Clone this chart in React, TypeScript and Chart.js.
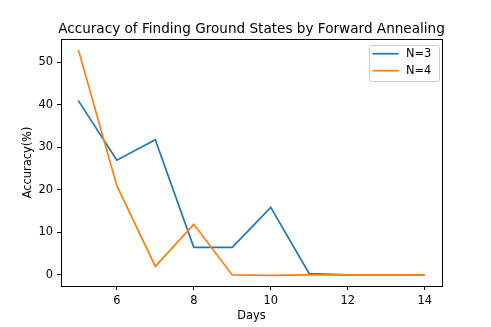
import React, { useEffect, useRef } from "react";
import { Chart, registerables } from "chart.js";

Chart.register(...registerables);

const days = [5, 6, 7, 8, 9, 10, 11, 12, 13, 14];
const n3 = [41, 27, 31.8, 6.5, 6.5, 15.9, 0.3, 0, 0, 0];
const n4 = [53, 21, 2, 11.9, 0, -0.1, 0, 0, 0, 0];
const xTicks = [6, 8, 10, 12, 14];
const yTicks = [0, 10, 20, 30, 40, 50];
const seriesLabels = ["N=3", "N=4"];
const colors = ["#1f77b4", "#ff7f0e"];
const titleText = "Accuracy of Finding Ground States by Forward Annealing";
const xLabel = "Days";
const yLabel = "Accuracy(%)";

const FONT = "'DejaVu Sans', sans-serif";
const FS = 11.4;
const TFS = 13.6;

const decorPlugin = {
  id: "decor",
  afterDraw(chart: any) {
    const { ctx, chartArea } = chart;
    const { left, right, top, bottom } = chartArea;
    ctx.save();
    // frame
    ctx.strokeStyle = "#000";
    ctx.lineWidth = 1;
    ctx.strokeRect(Math.round(left) + 0.5, Math.round(top) + 0.5, Math.round(right - left), Math.round(bottom - top));
    // title
    ctx.fillStyle = "#000";
    ctx.font = `${TFS}px ${FONT}`;
    ctx.textAlign = "center";
    ctx.textBaseline = "alphabetic";
    ctx.fillText(titleText, (left + right) / 2, 32.7);
    // x label
    ctx.font = `${FS}px ${FONT}`;
    ctx.fillText(xLabel, (left + right) / 2, 319);
    // y label
    ctx.save();
    ctx.translate(28.5, (top + bottom) / 2);
    ctx.rotate(-Math.PI / 2);
    ctx.textBaseline = "middle";
    ctx.fillText(yLabel, 0, 0);
    ctx.restore();
    // legend
    const lx = 369.5;
    const ly = 45.5;
    const lw = 70;
    const lh = 36;
    ctx.fillStyle = "rgba(255,255,255,0.8)";
    ctx.strokeStyle = "#cccccc";
    ctx.lineWidth = 1;
    const r = 2;
    ctx.beginPath();
    ctx.moveTo(lx + r, ly);
    ctx.lineTo(lx + lw - r, ly);
    ctx.quadraticCurveTo(lx + lw, ly, lx + lw, ly + r);
    ctx.lineTo(lx + lw, ly + lh - r);
    ctx.quadraticCurveTo(lx + lw, ly + lh, lx + lw - r, ly + lh);
    ctx.lineTo(lx + r, ly + lh);
    ctx.quadraticCurveTo(lx, ly + lh, lx, ly + lh - r);
    ctx.lineTo(lx, ly + r);
    ctx.quadraticCurveTo(lx, ly, lx + r, ly);
    ctx.closePath();
    ctx.fill();
    ctx.stroke();
    ctx.textAlign = "left";
    ctx.textBaseline = "middle";
    ctx.font = `${FS}px ${FONT}`;
    seriesLabels.forEach((lab, i) => {
      const yy = 53.7 + i * 17;
      ctx.strokeStyle = colors[i];
      ctx.lineWidth = 1.7;
      ctx.beginPath();
      ctx.moveTo(372.5, yy);
      ctx.lineTo(398.5, yy);
      ctx.stroke();
      ctx.fillStyle = "#000";
      ctx.fillText(lab, 406, yy + 0.5);
    });
    ctx.restore();
  },
};

export default function App() {
  const ref = useRef<HTMLCanvasElement>(null);
  useEffect(() => {
    document.body.style.margin = "0";
    const canvas = ref.current!;
    const chart = new Chart(canvas, {
      type: "line",
      data: {
        datasets: [
          {
            label: seriesLabels[0],
            data: days.map((d, i) => ({ x: d, y: n3[i] })),
            borderColor: colors[0],
            borderWidth: 1.7,
            pointRadius: 0,
            tension: 0,
            fill: false,
            order: 1,
          },
          {
            label: seriesLabels[1],
            data: days.map((d, i) => ({ x: d, y: n4[i] })),
            borderColor: colors[1],
            borderWidth: 1.7,
            pointRadius: 0,
            tension: 0,
            fill: false,
            order: 0,
          },
        ],
      },
      options: {
        responsive: false,
        animation: false,
        devicePixelRatio: 1,
        layout: { padding: { top: 39, right: 49, left: 0, bottom: 0 } },
        plugins: {
          legend: { display: false },
          title: { display: false },
          tooltip: { enabled: false },
        },
        scales: {
          x: {
            type: "linear",
            min: 4.55,
            max: 14.45,
            afterBuildTicks: (s: any) => {
              s.ticks = xTicks.map((v) => ({ value: v }));
            },
            afterFit: (s: any) => {
              s.height = 41;
            },
            grid: { drawOnChartArea: false, drawTicks: true, tickLength: 4, color: "#000", lineWidth: 1 },
            border: { display: false },
            ticks: { color: "#000", font: { family: FONT, size: FS }, padding: 4, maxRotation: 0 },
          },
          y: {
            type: "linear",
            min: -2.6,
            max: 55.5,
            afterBuildTicks: (s: any) => {
              s.ticks = yTicks.map((v) => ({ value: v }));
            },
            afterFit: (s: any) => {
              s.width = 61;
            },
            grid: { drawOnChartArea: false, drawTicks: true, tickLength: 4, color: "#000", lineWidth: 1 },
            border: { display: false },
            ticks: { color: "#000", font: { family: FONT, size: FS }, padding: 4 },
          },
        },
      },
      plugins: [decorPlugin],
    });
    return () => chart.destroy();
  }, []);
  return (
    <div style={{ position: "absolute", left: 0, top: 0, width: 491, height: 327, background: "#fff" }}>
      <canvas ref={ref} width={491} height={327} style={{ width: 491, height: 327 }} />
    </div>
  );
}
